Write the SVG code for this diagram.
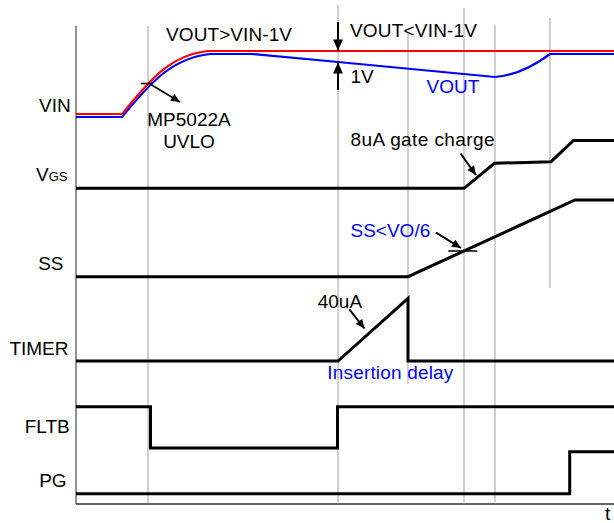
<svg xmlns="http://www.w3.org/2000/svg" width="614" height="523" viewBox="0 0 614 523">
<style>
text{font-family:"Liberation Sans",Arial,sans-serif;font-size:19px;fill:#000}
.blue{fill:#0000ff}
.grid{stroke:#c0c0c0;stroke-width:1.5;fill:none}
.sig{stroke:#000;stroke-width:3;fill:none;stroke-linejoin:miter}
.ann{stroke:#000;stroke-width:1.5;fill:none}
.big{stroke:#000;stroke-width:2;fill:none}
</style>
<defs>
<marker id="ah" viewBox="0 0 10 10" refX="10" refY="5" markerWidth="10" markerHeight="9" orient="auto" markerUnits="userSpaceOnUse"><path d="M0,0.5 L10,5 L0,9.5 z" fill="#000"/></marker>
<marker id="ahb" viewBox="0 0 10 10" refX="10" refY="5" markerWidth="13" markerHeight="11" orient="auto" markerUnits="userSpaceOnUse"><path d="M0,0.5 L10,5 L0,9.5 z" fill="#000"/></marker>
</defs>
<g id="grid">
<line class="grid" x1="148" y1="26" x2="148" y2="504"/>
<line class="grid" x1="338" y1="5" x2="338" y2="502"/>
<line class="grid" x1="408" y1="33" x2="408" y2="384"/>
<line class="grid" x1="464" y1="8" x2="464" y2="502"/>
<line class="grid" x1="495" y1="25" x2="495" y2="502"/>
<line class="grid" x1="550" y1="18" x2="550" y2="288"/>
</g>
<g id="axes">
<line x1="76" y1="26" x2="76" y2="504" stroke="#555" stroke-width="1.3"/>
<line x1="76" y1="504" x2="614" y2="504" stroke="#333" stroke-width="1.3"/>
<text x="605" y="520">t</text>
</g>
<g id="vin">
<path d="M76,117 L122,117 C150,83 172,58 210,54 L252,54 L338,62 L495,77 Q522,75 550,54 L614,54" stroke="#0000ff" stroke-width="2.2" fill="none"/>
<path d="M76,114 L122,114 C150,80 170,55 208,51 L614,51" stroke="#ff0000" stroke-width="2.2" fill="none"/>
<text x="70.7" y="112" text-anchor="end">VIN</text>
</g>
<g id="vgs">
<polyline class="sig" points="76,188.3 464,188.3 494.5,163.3 551,161.7 573.5,140.5 614,140.5"/>
<text x="36" y="181">V<tspan font-size="13">GS</tspan></text>
</g>
<g id="ss">
<polyline class="sig" points="76,276.7 408,276.7 575,200 614,200"/>
<text x="63.5" y="270" text-anchor="end">SS</text>
</g>
<g id="timer">
<polyline class="sig" points="76,361 338,361 408,298.3 408,361 614,361"/>
<text x="68.5" y="355" text-anchor="end">TIMER</text>
</g>
<g id="fltb">
<polyline class="sig" points="76,406.7 150.5,406.7 150.5,448 337.5,448 337.5,406.7 614,406.7"/>
<text x="69.7" y="433" text-anchor="end">FLTB</text>
</g>
<g id="pg">
<polyline class="sig" points="76,493.7 569.7,493.7 569.7,451.7 614,451.7"/>
<text x="66.6" y="487" text-anchor="end">PG</text>
</g>
<g id="annotations">
<text x="166" y="40.5" textLength="126" lengthAdjust="spacing">VOUT&gt;VIN-1V</text>
<text x="350" y="37" textLength="127" lengthAdjust="spacing">VOUT&lt;VIN-1V</text>
<text x="350.5" y="83.3">1V</text>
<text class="blue" x="426.5" y="92.7">VOUT</text>
<text x="189" y="126" text-anchor="middle">MP5022A</text>
<text x="189" y="147.7" text-anchor="middle">UVLO</text>
<text x="350.5" y="146" textLength="144" lengthAdjust="spacing">8uA gate charge</text>
<text class="blue" x="350.5" y="236.7">SS&lt;VO/6</text>
<text x="317.7" y="308.3">40uA</text>
<text class="blue" x="327.3" y="378.7" textLength="126" lengthAdjust="spacing">Insertion delay</text>
</g>
<g id="connectors">
<line class="big" x1="338" y1="22" x2="338" y2="50.5" marker-end="url(#ahb)"/>
<line class="big" x1="338" y1="90" x2="338" y2="62.5" marker-end="url(#ahb)"/>
<line class="ann" x1="141" y1="83.5" x2="152" y2="83.5"/>
<line class="ann" x1="150" y1="84" x2="180" y2="102" marker-end="url(#ah)"/>
<line class="big" x1="460.5" y1="153.5" x2="476" y2="175" marker-end="url(#ah)"/>
<line class="big" x1="436" y1="232.7" x2="461" y2="248" marker-end="url(#ah)"/>
<line class="ann" x1="448.3" y1="251" x2="477.3" y2="251"/>
<line class="big" x1="349.3" y1="309.3" x2="364.5" y2="328.5" marker-end="url(#ah)"/>
</g>
</svg>
